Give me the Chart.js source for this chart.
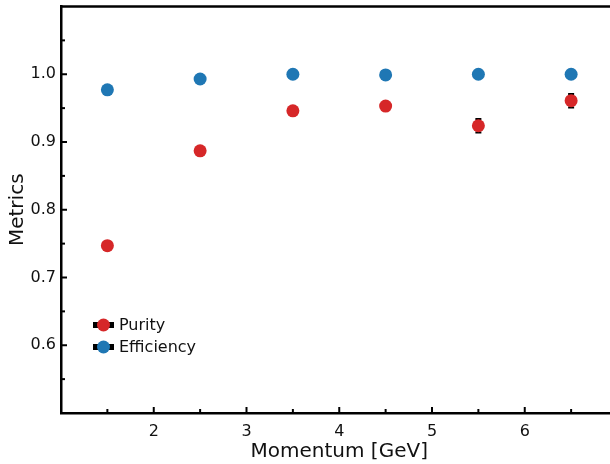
<!DOCTYPE html>
<html>
<head>
<meta charset="utf-8">
<script src="https://cdn.jsdelivr.net/npm/chart.js@4"></script>
<style>
  html, body { margin: 0; padding: 0; background: #fff; overflow: hidden; }
  #wrap { width: 624px; height: 464px; }
</style>
</head>
<body>
<div id="wrap"><canvas id="chart"></canvas></div>
<script>
const momentum = [1.5, 2.5, 3.5, 4.5, 5.5, 6.5];
const purity = [0.747, 0.887, 0.946, 0.953, 0.924, 0.961];
const purityErr = [0.003, 0.003, 0.003, 0.003, 0.010, 0.010];
const efficiency = [0.977, 0.993, 1.000, 0.999, 1.000, 1.000];
const efficiencyErr = [0.002, 0.002, 0.001, 0.001, 0.001, 0.001];
const xTicks = [2, 3, 4, 5, 6];
const yTicks = [0.6, 0.7, 0.8, 0.9, 1.0];

const RED = '#d62728';
const BLUE = '#1f77b4';
const FONT = 'DejaVu Sans';

const pts = (ys) => momentum.map((x, i) => ({ x: x, y: ys[i] }));

// error bars, inward ticks, top spine, legend
const extras = {
  id: 'extras',
  beforeDatasetsDraw(chart) {
    const { ctx, scales: { x, y } } = chart;
    ctx.save();
    ctx.strokeStyle = '#000';
    ctx.lineWidth = 2;
    chart.data.datasets.forEach(ds => {
      ds.data.forEach((p, i) => {
        const px = x.getPixelForValue(p.x);
        const y1 = y.getPixelForValue(p.y + ds.err[i]);
        const y2 = y.getPixelForValue(p.y - ds.err[i]);
        ctx.beginPath();
        ctx.moveTo(px, y1); ctx.lineTo(px, y2);
        ctx.moveTo(px - 3, y1); ctx.lineTo(px + 3, y1);
        ctx.moveTo(px - 3, y2); ctx.lineTo(px + 3, y2);
        ctx.stroke();
      });
    });
    ctx.restore();
  },
  afterDraw(chart) {
    const { ctx, chartArea: a, scales: { x, y } } = chart;
    ctx.save();
    ctx.strokeStyle = '#000';
    ctx.lineWidth = 2.5;
    ctx.beginPath();
    ctx.moveTo(a.left - 1, a.top); ctx.lineTo(a.right + 2, a.top);
    ctx.stroke();
    ctx.lineWidth = 2;
    for (let v = 1.5; v < 7; v += 0.5) {
      const px = x.getPixelForValue(v);
      const len = Number.isInteger(v) ? 6 : 4;
      ctx.beginPath();
      ctx.moveTo(px, a.bottom); ctx.lineTo(px, a.bottom - len);
      ctx.stroke();
    }
    for (let k = 11; k < 22; k++) {
      const v = k * 0.05;
      const py = y.getPixelForValue(v);
      const len = k % 2 === 0 ? 6 : 4;
      ctx.beginPath();
      ctx.moveTo(a.left, py); ctx.lineTo(a.left + len, py);
      ctx.stroke();
    }
    // legend
    const items = [['Purity', RED, 325], ['Efficiency', BLUE, 347]];
    ctx.font = '16px "' + FONT + '"';
    ctx.textBaseline = 'middle';
    items.forEach(([label, col, ly]) => {
      ctx.fillStyle = '#000';
      ctx.fillRect(93, ly - 3, 21, 6);
      ctx.fillStyle = col;
      ctx.beginPath();
      ctx.arc(103.5, ly, 6.5, 0, Math.PI * 2);
      ctx.fill();
      ctx.fillStyle = '#111';
      ctx.fillText(label, 119, ly + 1);
    });
    ctx.restore();
  }
};

new Chart(document.getElementById('chart'), {
  type: 'scatter',
  data: {
    datasets: [
      { label: 'Purity', data: pts(purity), err: purityErr, backgroundColor: RED, borderColor: RED, pointRadius: 6.5, pointHoverRadius: 6.5, borderWidth: 0 },
      { label: 'Efficiency', data: pts(efficiency), err: efficiencyErr, backgroundColor: BLUE, borderColor: BLUE, pointRadius: 6.5, pointHoverRadius: 6.5, borderWidth: 0 }
    ]
  },
  options: {
    responsive: true,
    maintainAspectRatio: false,
    animation: false,
    events: [],
    layout: { padding: { top: 6, right: 3, left: 0, bottom: 0 } },
    plugins: { legend: { display: false }, tooltip: { enabled: false } },
    scales: {
      x: {
        type: 'linear',
        min: 1.0, max: 7.0,
        afterFit: s => { s.height = 51; s.paddingLeft = 0; s.paddingRight = 0; },
        afterBuildTicks: s => { s.ticks = xTicks.map(v => ({ value: v })); },
        grid: { display: false, drawTicks: false },
        border: { color: '#000', width: 2.5 },
        ticks: { color: '#111', padding: 9, font: { family: FONT, size: 16 } },
        title: { display: true, text: 'Momentum [GeV]', color: '#111', padding: { top: 2, bottom: 0 }, font: { family: FONT, size: 20 } }
      },
      y: {
        type: 'linear',
        min: 0.5, max: 1.1,
        afterFit: s => { s.width = 61; s.paddingTop = 0; s.paddingBottom = 0; },
        afterBuildTicks: s => { s.ticks = yTicks.map(v => ({ value: v })); },
        grid: { display: false, drawTicks: false },
        border: { color: '#000', width: 2.5 },
        ticks: { color: '#111', padding: 5, font: { family: FONT, size: 16 }, callback: v => v.toFixed(1) },
        title: { display: true, text: 'Metrics', color: '#111', padding: { top: 6, bottom: 0 }, font: { family: FONT, size: 20 } }
      }
    }
  },
  plugins: [extras]
});
</script>
</body>
</html>
